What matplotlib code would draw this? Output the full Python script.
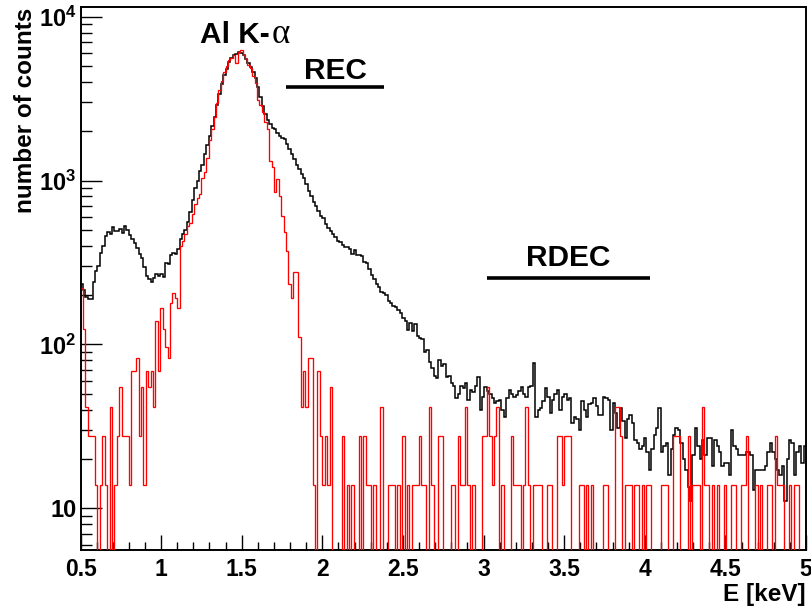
import numpy as np
import matplotlib
matplotlib.use("Agg")
import matplotlib.pyplot as plt
from matplotlib.ticker import FixedLocator, MultipleLocator, NullFormatter

# ---------------- data ----------------
E_START = 0.5        # keV, first bin low edge
BIN_WIDTH = 0.015    # keV
RED_SCALE = 13.8     # normalisation applied to the red spectrum counts

black_counts = [
    235, 215, 195, 188, 190, 240, 280, 300, 360, 400,
    460, 485, 470, 520, 495, 490, 505, 480, 525, 500,
    465, 440, 415, 390, 355, 335, 295, 260, 250, 240,
    255, 270, 262, 268, 258, 315, 308, 350, 362, 355,
    380, 440, 470, 500, 560, 640, 760, 900, 1000, 1150,
    1250, 1450, 1650, 1860, 2150, 2450, 2900, 3350, 3900, 4400,
    4800, 5300, 5600, 5850, 5950, 6100, 6000, 5800, 5500, 5200,
    4950, 4600, 4200, 3700, 3250, 2850, 2550, 2350, 2200, 2100,
    2050, 1950, 1870, 1820, 1780, 1680, 1560, 1450, 1350, 1250,
    1170, 1100, 1030, 950, 860, 800, 740, 700, 650, 610,
    590, 545, 515, 490, 470, 455, 430, 420, 405, 395,
    395, 380, 355, 375, 350, 352, 345, 320, 315, 290,
    265, 250, 235, 225, 210, 205, 200, 185, 178, 172,
    168, 163, 155, 145, 138, 122, 135, 120, 133, 112,
    110, 108, 90, 92, 78, 72, 64, 62, 80, 74,
    76, 63, 64, 58, 56, 47, 50, 56, 54, 58,
    46, 53, 51, 56, 63, 40, 48, 55, 52, 50,
    47, 44, 45, 46, 40, 36, 47, 53, 50, 48,
    49, 52, 55, 50, 48, 55, 56, 77, 36, 40,
    41, 45, 54, 48, 38, 46, 50, 53, 40, 48,
    50, 46, 47, 33, 36, 35, 30, 45, 40, 36,
    43, 44, 47, 42, 37, 37, 48, 47, 46, 30,
    44, 38, 31, 41, 34, 27, 35, 37, 33, 26,
    25, 23, 24, 27, 22, 17, 23, 28, 31, 41,
    22, 24, 25, 16, 23, 28, 31, 30, 25, 20,
    17, 13.5, 11, 21, 31, 24, 20, 26, 21, 27,
    27, 18, 26, 24, 22, 18, 19, 19, 16, 30,
    24, 23, 21, 21, 21, 22, 22, 21, 13, 17,
    17, 17, 17, 18, 22, 25, 22, 20, 17, 16,
    18, 11, 20, 26, 25, 16, 22, 24, 19, 24,
]

red_counts = [
    16, 9, 3, 2, 2, 2, 1, 0, 1, 2,
    1, 0, 3, 0, 1, 2, 4, 2, 2, 2,
    1, 5, 5, 6, 2, 4, 1, 5, 4, 5,
    3, 10, 5, 12, 9, 7, 6, 13, 15, 14,
    12, 29, 31, 34, 38, 40, 45, 52, 57, 60,
    75, 82, 100, 128, 150, 178, 215, 258, 295, 335,
    360, 395, 405, 420, 380, 440, 452, 425, 400, 365,
    350, 315, 285, 225, 210, 190, 165, 150, 95, 88,
    62, 74, 58, 44, 35, 27, 17, 14, 20, 20,
    8, 3, 5, 3, 6, 6, 1, 0, 5, 2,
    1, 2, 1, 4, 0, 0, 0, 0, 2, 0,
    1, 0, 1, 0, 0, 2, 0, 2, 1, 1,
    0, 1, 0, 0, 3, 0, 0, 1, 1, 1,
    0, 1, 0, 2, 0, 1, 0, 1, 1, 1,
    2, 1, 1, 0, 3, 1, 0, 0, 2, 2,
    0, 0, 0, 1, 1, 0, 2, 1, 1, 3,
    1, 0, 1, 0, 0, 0, 2, 2, 4, 2,
    1, 2, 3, 0, 1, 0, 0, 0, 2, 1,
    1, 1, 0, 1, 3, 1, 0, 1, 1, 1,
    1, 0, 0, 1, 1, 0, 0, 2, 2, 1,
    2, 2, 2, 0, 0, 0, 1, 1, 0, 1,
    0, 1, 0, 0, 0, 0, 1, 1, 0, 0,
    0, 3, 3, 2, 0, 1, 1, 1, 0, 1,
    1, 0, 1, 0, 1, 1, 0, 0, 0, 0,
    1, 1, 1, 0, 0, 2, 2, 2, 0, 0,
    0, 2, 0, 1, 1, 1, 0, 3, 1, 1,
    0, 1, 0, 1, 0, 0, 1, 0, 0, 1,
    1, 0, 0, 1, 1, 2, 0, 0, 0, 1,
    0, 1, 0, 0, 1, 1, 0, 2, 1, 1,
    1, 0, 0, 1, 0, 1, 1, 0, 0, 0,
]

x_ticks = [0.5, 1, 1.5, 2, 2.5, 3, 3.5, 4, 4.5, 5]
x_tick_labels = ["0.5", "1", "1.5", "2", "2.5", "3", "3.5", "4", "4.5", "5"]
y_ticks = [10, 100, 1000, 10000]
y_tick_labels = ["10", "10$^{2}$", "10$^{3}$", "10$^{4}$"]

# band annotations: (label, E_low, E_high, level, text baseline)
bands = [("REC", 1.775, 2.382, 3710, 4150), ("RDEC", 3.02, 4.03, 255, 300)]

# ---------------- style ----------------
FONT = "Liberation Sans"
plt.rcParams["font.family"] = [FONT, "DejaVu Sans"]
plt.rcParams["font.weight"] = "bold"
plt.rcParams["mathtext.fontset"] = "custom"
plt.rcParams["mathtext.rm"] = "Liberation Sans:bold"
plt.rcParams["mathtext.it"] = "Liberation Sans:bold"
plt.rcParams["mathtext.bf"] = "Liberation Sans:bold"

fig = plt.figure(figsize=(8.11, 6.09), dpi=100)
ax = fig.add_axes([80.5 / 811, 1 - 550 / 609, 725.5 / 811, 543.3 / 609])

n = len(black_counts)
edges = E_START + BIN_WIDTH * np.arange(n + 1)
black = np.asarray(black_counts, dtype=float)
red = np.asarray(red_counts, dtype=float) * RED_SCALE
FLOOR = 1.0  # empty bins are drawn down to (below) the frame bottom
black = np.where(black > 0, black, FLOOR)
red = np.where(red > 0, red, FLOOR)

ax.stairs(black, edges, baseline=None, color="black", lw=1.1, zorder=2)
ax.stairs(red, edges, baseline=None, color="#ff0000", lw=0.95, zorder=3)

ax.set_yscale("log")
ax.set_xlim(0.5, 5.0)
ax.set_ylim(5.56, 11500)

ax.xaxis.set_major_locator(FixedLocator(x_ticks))
ax.set_xticklabels(x_tick_labels)
ax.xaxis.set_minor_locator(MultipleLocator(0.1))
ax.yaxis.set_major_locator(FixedLocator(y_ticks))
ax.set_yticklabels(y_tick_labels)
minor_y = [m * 10 ** d for d in range(0, 5) for m in range(2, 10)]
ax.yaxis.set_minor_locator(FixedLocator(minor_y))
ax.yaxis.set_minor_formatter(NullFormatter())

ax.tick_params(axis="x", which="major", direction="in", length=11, width=1.0,
               pad=6, labelsize=16.5)
ax.tick_params(axis="x", which="minor", direction="in", length=6, width=1.0)
ax.tick_params(axis="y", which="major", direction="in", length=15, width=1.0,
               pad=3, labelsize=17)
ax.tick_params(axis="y", which="minor", direction="in", length=8, width=1.0)
for lab in ax.get_xticklabels() + ax.get_yticklabels():
    lab.set_fontweight("bold")
for s in ax.spines.values():
    s.set_linewidth(1.4)

# axis titles (ROOT style: right / top aligned)
fig.text(806 / 811, 1 - 583 / 609, "E [keV]", ha="right", va="top",
         fontsize=17.5, fontweight="bold")
fig.text(26 / 811, 1 - 8 / 609, "number of counts", rotation=90,
         ha="center", va="top", fontsize=17.5, fontweight="bold")

# peak label
ax.text(1.672, 6900, "Al K-", ha="right", va="baseline", fontsize=21.5,
        fontweight="bold")
ax.text(1.685, 6900, "α", ha="left", va="baseline", fontsize=25,
        family=["Liberation Serif", "DejaVu Serif"], fontweight="normal")

for label, lo, hi, level, ytext in bands:
    ax.plot([lo, hi], [level, level], color="black", lw=2.6,
            solid_capstyle="butt", zorder=4)
    ax.text((lo + hi) / 2, ytext, label, ha="center", va="baseline",
            fontsize=21.5, fontweight="bold")

fig.savefig("out.png", dpi=100)
